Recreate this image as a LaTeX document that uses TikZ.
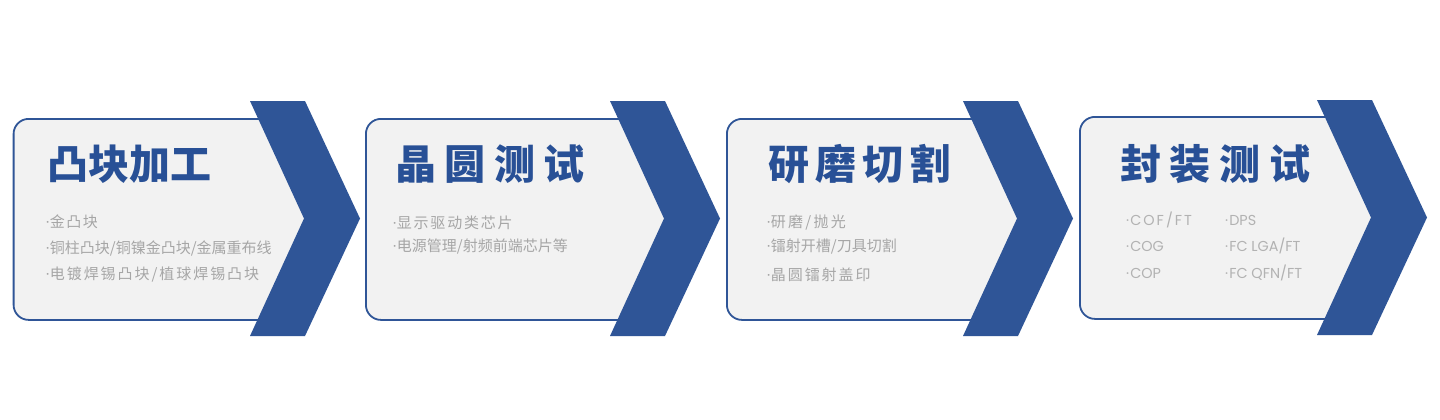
\documentclass[tikz,border=0pt]{standalone}
\usepackage{fontspec}
\newfontfamily\cjk{Noto Sans CJK SC}
\newfontfamily\lat{Poppins}
\definecolor{cblue}{RGB}{47,85,151}
\definecolor{tblue}{RGB}{40,80,150}
\definecolor{boxfill}{RGB}{242,242,242}
\definecolor{tgray}{RGB}{166,166,166}
\definecolor{lgray}{RGB}{178,178,178}
\newcommand{\bdot}{{\lat ·}\kern0.5pt}
\tikzset{
  stagebox/.style={draw=cblue, line width=1.8pt, fill=boxfill, rounded corners=15pt, anchor=north west, inner sep=0pt},
  chev/.style={fill=cblue},
  ttl/.style={anchor=west, inner sep=0pt, text=tblue, font=\cjk\bfseries\fontsize{41}{41}\selectfont},
  itm/.style={anchor=west, inner sep=0pt, text=tgray, font=\cjk\fontsize{15}{15}\selectfont},
  litm/.style={anchor=west, inner sep=0pt, text=lgray, font=\lat\fontsize{14.4}{14.4}\selectfont},
}
\begin{document}
\begin{tikzpicture}[x=1pt,y=-1pt]
\useasboundingbox (0,0) rectangle (1440,420);
\fill[white] (0,0) rectangle (1440,420);
% boxes
\node[stagebox, minimum width=295pt, minimum height=201pt] (b1) at (12.7,118) {};
\node[stagebox, minimum width=303pt, minimum height=201pt] (b2) at (365,118) {};
\node[stagebox, minimum width=295pt, minimum height=201pt] (b3) at (726,118) {};
\node[stagebox, minimum width=295pt, minimum height=202pt] (b4) at (1079,116) {};
% chevrons
\fill[chev] (250,101) -- (305,101) -- (360,218.5) -- (305,336) -- (250,336) -- (304,218.5) -- cycle;
\fill[chev] (610,101) -- (665,101) -- (720,218.5) -- (665,336) -- (610,336) -- (664,218.5) -- cycle;
\fill[chev] (963,101) -- (1018,101) -- (1073,218.5) -- (1018,336) -- (963,336) -- (1017,218.5) -- cycle;
\fill[chev] (1317,100) -- (1372,100) -- (1427,217.5) -- (1372,335) -- (1317,335) -- (1371,217.5) -- cycle;
% titles
\node[ttl] (t1) at (47,164) {凸块加工};
\node[ttl] (t2) at (395,164) {\addfontfeature{LetterSpace=21}晶圆测试};
\node[ttl] (t3) at (768,164) {\addfontfeature{LetterSpace=15}研磨切割};
\node[ttl] (t4) at (1120,164) {\addfontfeature{LetterSpace=21}封装测试};
% box 1 items
\node[itm] (i11) at (46,222) {\bdot{\addfontfeature{LetterSpace=10}金凸块}};
\node[itm] (i12) at (46,248) {\bdot 铜柱凸块/铜镍金凸块/金属重布线};
\node[itm] (i13) at (46,275) {\bdot{\addfontfeature{LetterSpace=13}电镀焊锡凸块/植球焊锡凸块}};
% box 2 items
\node[itm] (i21) at (393,223) {\bdot{\addfontfeature{LetterSpace=12}显示驱动类芯片}};
\node[itm] (i22) at (393,247) {\bdot 电源管理/射频前端芯片等};
% box 3 items
\node[itm] (i31) at (767,223) {\bdot{\addfontfeature{LetterSpace=15}研磨/抛光}};
\node[itm] (i32) at (767,247) {\bdot 镭射开槽/刀具切割};
\node[itm] (i33) at (767,275) {\bdot{\addfontfeature{LetterSpace=13}晶圆镭射盖印}};
% box 4 items
\node[litm] (i41) at (1126,220) {·\kern1pt{\addfontfeature{LetterSpace=14}COF/FT}};
\node[litm] (i42) at (1126,246) {·\kern1pt COG};
\node[litm] (i43) at (1126,273) {·\kern1pt COP};
\node[litm] (i44) at (1225,220) {·\kern1pt DPS};
\node[litm] (i45) at (1225,246) {·\kern1pt FC LGA/FT};
\node[litm] (i46) at (1225,273) {·\kern1pt FC QFN/FT};
\end{tikzpicture}
\end{document}
